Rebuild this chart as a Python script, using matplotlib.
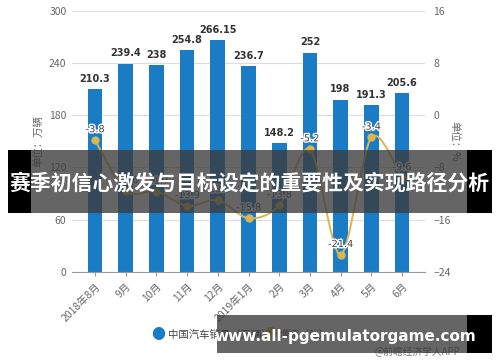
import matplotlib
matplotlib.use('Agg')
import matplotlib.pyplot as plt
import matplotlib.patheffects as pe
from matplotlib.path import Path
from matplotlib.patches import PathPatch, Rectangle
import numpy as np

plt.rcParams['font.family'] = ['Noto Sans CJK SC', 'DejaVu Sans']

months = ['2018年8月', '9月', '10月', '11月', '12月', '2019年1月',
          '2月', '3月', '4月', '5月', '6月']
sales = [210.3, 239.4, 238, 254.8, 266.15, 236.7, 148.2, 252, 198, 191.3, 205.6]
growth = [-3.8, -11.6, -11.7, -13.9, -13.0, -15.8, -13.8, -5.2, -21.4, -3.4, -9.6]
sales_labels = ['210.3', '239.4', '238', '254.8', '266.15', '236.7',
                '148.2', '252', '198', '191.3', '205.6']

bar_color = '#1b7cc6'
line_color = '#dcb450'
tick_gray = '#666666'


# smooth path through the points (catmull-rom as bezier segments)
def smooth_path(x, y, k=0.3):
    verts = [(x[0], y[0])]
    codes = [Path.MOVETO]
    n = len(x)
    for i in range(n - 1):
        x0, y0 = x[max(i - 1, 0)], y[max(i - 1, 0)]
        x1, y1 = x[i], y[i]
        x2, y2 = x[i + 1], y[i + 1]
        x3, y3 = x[min(i + 2, n - 1)], y[min(i + 2, n - 1)]
        c1 = (x1 + (x2 - x0) * k / 2, y1 + (y2 - y0) * k / 2)
        c2 = (x2 - (x3 - x1) * k / 2, y2 - (y3 - y1) * k / 2)
        verts += [c1, c2, (x2, y2)]
        codes += [Path.CURVE4] * 3
    return Path(verts, codes)


fig = plt.figure(figsize=(5, 3.62), dpi=100)
ax = fig.add_axes([0.144, 0.249, 0.706, 0.721])
ax2 = ax.twinx()

x = np.arange(len(months))
ax.bar(x, sales, width=0.48, color=bar_color, zorder=2)
for xi, v, s in zip(x, sales, sales_labels):
    ax.text(xi, v + 6, s, ha='center', va='bottom', fontsize=7,
            fontweight='bold', color='#333333', family='DejaVu Sans')

ax.set_ylim(0, 300)
ax.set_yticks(range(0, 301, 60))
ax.set_xlim(-0.75, len(months) - 0.25)
ax.grid(axis='y', color='#dddddd', linewidth=0.8, zorder=0)
ax.set_axisbelow(True)
for s in ['top', 'left', 'right']:
    ax.spines[s].set_visible(False)
ax.spines['bottom'].set_color('#999999')
ax.tick_params(axis='y', length=0, labelsize=7.5, labelcolor=tick_gray, pad=4)
ax.tick_params(axis='x', length=3, color='#999999', labelsize=7.5,
               labelcolor=tick_gray)
ax.set_xticks(x)
ax.set_xticklabels(months, rotation=45, ha='right', rotation_mode='anchor')
ax.set_ylabel('单位：万辆', fontsize=7.5, color=tick_gray, labelpad=4)

ax2.set_ylim(-24, 16)
ax2.set_yticks(range(-24, 17, 8))
for s in ['top', 'left', 'right', 'bottom']:
    ax2.spines[s].set_visible(False)
ax2.tick_params(axis='y', length=0, labelsize=7.5, labelcolor=tick_gray, pad=6)
ax2.set_ylabel('单位：%', fontsize=7.5, color=tick_gray, rotation=-90,
               labelpad=6)

ax2.add_patch(PathPatch(smooth_path(x, growth), facecolor='none',
                        edgecolor=line_color, linewidth=1.4, zorder=3))
ax2.plot(x, growth, 'o', color=line_color, markersize=5, zorder=4)
for xi, v in zip(x, growth):
    ax2.text(xi, v + 0.9, '{:.1f}'.format(v), ha='center',
             va='bottom', fontsize=7, color='#444444', family='DejaVu Sans',
             path_effects=[pe.withStroke(linewidth=2, foreground='white')],
             zorder=5)

# legend
fig.text(0.316, 0.075, '●', color=bar_color, fontsize=10, ha='center',
         va='center')
fig.text(0.336, 0.075, '中国汽车销量（万辆）', color='#444444', fontsize=7.5,
         ha='left', va='center')
fig.text(0.54, 0.075, '●', color=line_color, fontsize=10, ha='center',
         va='center')
fig.text(0.558, 0.075, '增速（%）', color='#444444', fontsize=7.5,
         ha='left', va='center')
fig.text(0.92, 0.028, '@前瞻经济学人APP', color='#777777', fontsize=7,
         ha='right', va='center')

# overlay banners
fig.patches.append(Rectangle((0.016, 1 - 213 / 362), 0.968, 63 / 362,
                             transform=fig.transFigure, facecolor='#3a3a3a',
                             alpha=0.78, zorder=10))
fig.patches.append(Rectangle((0.016, 1 - 213 / 362), 0.046, 63 / 362,
                             transform=fig.transFigure, facecolor='black',
                             zorder=11))
fig.patches.append(Rectangle((0.934, 1 - 213 / 362), 0.05, 63 / 362,
                             transform=fig.transFigure, facecolor='black',
                             zorder=11))
fig.text(0.5, 1 - 183 / 362, '赛季初信心激发与目标设定的重要性及实现路径分析',
         color='white', fontsize=15, fontweight='bold', ha='center',
         va='center', zorder=12)

fig.patches.append(Rectangle((0.434, 1 - 353 / 362), 0.55, 38 / 362,
                             transform=fig.transFigure, facecolor='#3a3a3a',
                             alpha=0.78, zorder=10))
fig.patches.append(Rectangle((0.934, 1 - 353 / 362), 0.05, 38 / 362,
                             transform=fig.transFigure, facecolor='black',
                             zorder=11))
fig.text(0.69, 1 - 337 / 362, 'www.all-pgemulatorgame.com', color='white',
         fontsize=11, fontweight='bold', ha='center', va='center',
         family='DejaVu Sans', zorder=12)

fig.savefig('out.png', dpi=100)
